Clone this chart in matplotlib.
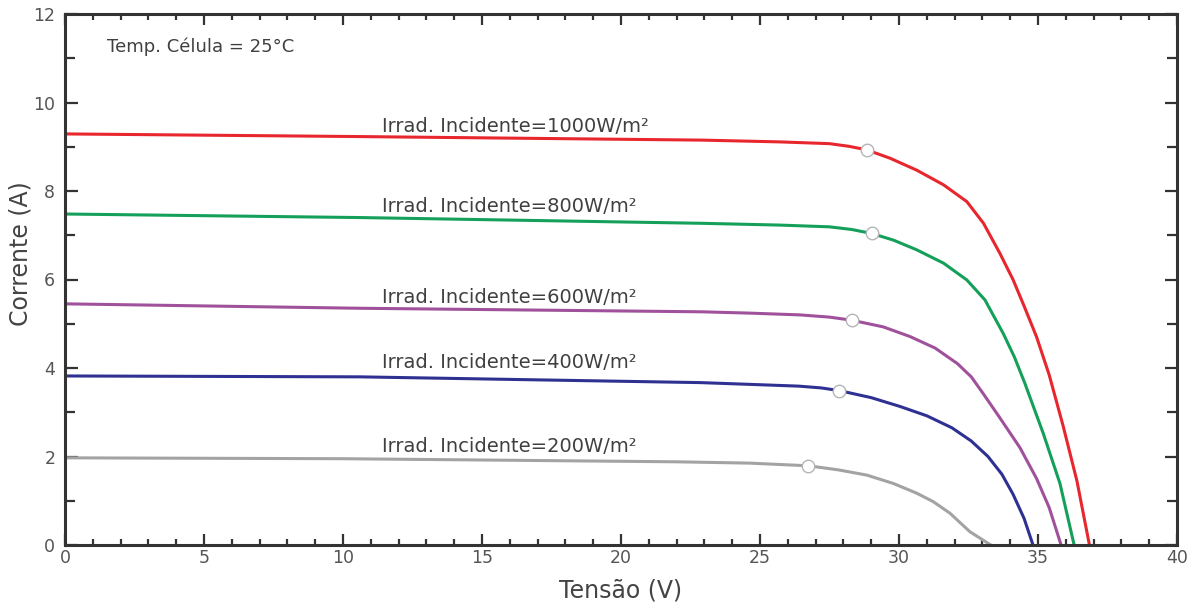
import matplotlib
matplotlib.use('Agg')
import matplotlib.pyplot as plt
from matplotlib.ticker import MultipleLocator

# curvas I-V (tensao em V, corrente em A)
v_1000 = [0, 10.6, 22.9, 25.7, 27.5, 28.2, 28.84, 29.68, 30.64, 31.6, 32.44, 33.04, 33.63,
          34.1, 34.5, 34.95, 35.4, 35.9, 36.4, 36.85]
i_1000 = [9.29, 9.23, 9.15, 9.11, 9.07, 9.01, 8.93, 8.74, 8.47, 8.14, 7.76, 7.27, 6.59,
          6.0, 5.4, 4.7, 3.85, 2.7, 1.45, 0]

v_800 = [0, 10.6, 22.9, 25.7, 27.5, 28.3, 29.02, 29.8, 30.64, 31.6, 32.44, 33.09, 33.75,
         34.15, 34.53, 35.19, 35.79, 36.3]
i_800 = [7.48, 7.40, 7.27, 7.23, 7.19, 7.13, 7.04, 6.89, 6.67, 6.37, 5.99, 5.54, 4.78,
         4.25, 3.65, 2.52, 1.39, 0]

v_600 = [0, 10.6, 22.9, 24.64, 26.44, 27.5, 28.3, 29.43, 30.4, 31.3, 32.1, 32.6, 33.03,
         33.6, 34.35, 34.95, 35.4, 35.83]
i_600 = [5.45, 5.35, 5.27, 5.24, 5.20, 5.15, 5.08, 4.93, 4.71, 4.45, 4.10, 3.80, 3.42,
         2.90, 2.20, 1.50, 0.85, 0]

v_400 = [0, 10.6, 22.84, 24.64, 26.4, 27.2, 27.85, 29.0, 30.04, 31.0, 31.9, 32.6, 33.2,
         33.7, 34.1, 34.5, 34.82]
i_400 = [3.82, 3.80, 3.67, 3.63, 3.59, 3.55, 3.49, 3.33, 3.13, 2.92, 2.65, 2.35, 2.00,
         1.60, 1.15, 0.60, 0]

v_200 = [0, 10, 22, 24.64, 26.74, 27.8, 28.84, 29.8, 30.64, 31.23, 31.83, 32.55, 33.3]
i_200 = [1.97, 1.95, 1.88, 1.85, 1.79, 1.70, 1.58, 1.39, 1.17, 0.98, 0.72, 0.30, 0]

# pontos de maxima potencia
mpp_v = [28.84, 29.02, 28.3, 27.85, 26.74]
mpp_i = [8.93, 7.04, 5.08, 3.49, 1.79]

labels = ['Irrad. Incidente=1000W/m²', 'Irrad. Incidente=800W/m²',
          'Irrad. Incidente=600W/m²', 'Irrad. Incidente=400W/m²',
          'Irrad. Incidente=200W/m²']
label_y = [9.34, 7.53, 5.48, 4.0, 2.11]

curves = [(v_1000, i_1000), (v_800, i_800), (v_600, i_600), (v_400, i_400), (v_200, i_200)]
colors = ['#e8262d', '#14a05a', '#a0519b', '#2e3192', '#a3a3a3']

fig = plt.figure(figsize=(12.04, 6.07), dpi=100)
ax = fig.add_axes([65 / 1204, 1 - 545 / 607, 1112 / 1204, 531 / 607])

for (v, i), c in zip(curves, colors):
    ax.plot(v, i, color=c, lw=2.2, solid_joinstyle='round', zorder=2)

ax.plot(mpp_v, mpp_i, ls='none', marker='o', ms=9, mfc='white', mec='#b5b5b5',
        mew=1.0, zorder=3)

for txt, y in zip(labels, label_y):
    ax.text(11.4, y, txt, fontsize=14, color='#404040', va='baseline', ha='left')

ax.text(1.5, 11.15, 'Temp. Célula = 25°C', fontsize=13, color='#404040',
        va='baseline', ha='left')

ax.set_xlim(0, 40)
ax.set_ylim(0, 12)
ax.xaxis.set_major_locator(MultipleLocator(5))
ax.xaxis.set_minor_locator(MultipleLocator(1))
ax.yaxis.set_major_locator(MultipleLocator(2))
ax.yaxis.set_minor_locator(MultipleLocator(1))

ax.tick_params(axis='x', which='both', direction='in', top=True, bottom=True,
               width=1.6, color='#333333', labelsize=12.5, labelcolor='#555555', pad=3)
ax.tick_params(axis='x', which='major', length=8)
ax.tick_params(axis='x', which='minor', length=4)
ax.tick_params(axis='y', which='both', direction='in', left=True, right=True,
               width=1.6, color='#333333', labelsize=12.5, labelcolor='#555555', pad=7)
ax.tick_params(axis='y', which='major', length=9)
ax.tick_params(axis='y', which='minor', length=7)

for s in ax.spines.values():
    s.set_linewidth(2.2)
    s.set_color('#333333')

ax.set_xlabel('Tensão (V)', fontsize=17, color='#444444')
ax.set_ylabel('Corrente (A)', fontsize=17, color='#444444')
ax.xaxis.set_label_coords(0.5, -0.064)
ax.yaxis.set_label_coords(-0.029, 0.548)

fig.savefig('out.png', dpi=100)
